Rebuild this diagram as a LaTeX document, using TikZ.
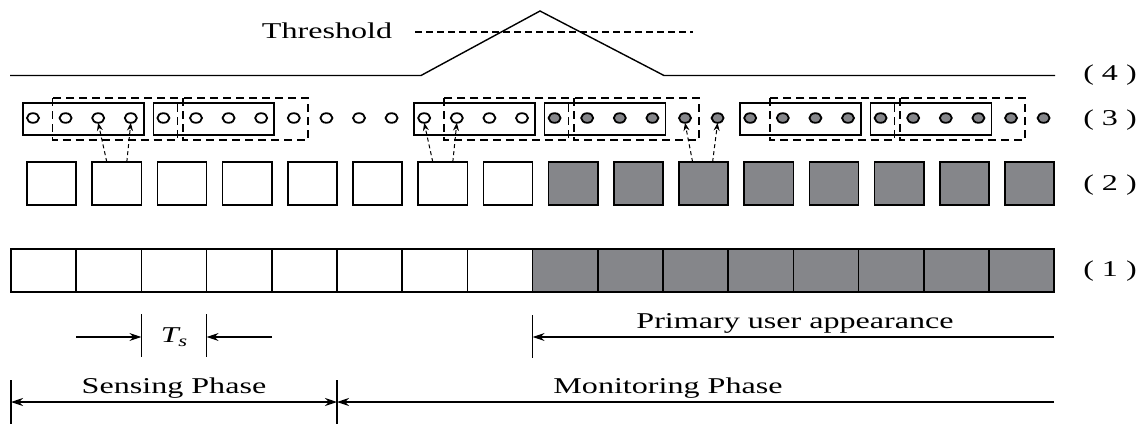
\documentclass[tikz,border=0pt]{standalone}
\usepackage{fontspec}
\setmainfont{Liberation Serif}[FakeStretch=1.42]
\usetikzlibrary{arrows.meta,shapes.geometric,calc}
\definecolor{pugray}{RGB}{133,134,138}
\begin{document}
\begin{tikzpicture}[x=0.5pt,y=-0.5pt, line width=0.8pt,
  slot/.style={draw, rectangle, minimum width=32.6pt, minimum height=21.5pt, inner sep=0pt, outer sep=0pt},
  pbox/.style={draw, rectangle, minimum width=24.6pt, minimum height=21.5pt, inner sep=0pt, outer sep=0pt},
  dot/.style={draw, ellipse, minimum width=6pt, minimum height=4.8pt, inner sep=0pt, outer sep=0pt, line width=0.9pt},
  win/.style={draw, line width=0.75pt},
  dwin/.style={draw, line width=0.75pt, dash pattern=on 4pt off 2.5pt},
  ptr/.style={line width=0.5pt, dash pattern=on 2pt off 1.5pt, -{Stealth[length=4pt,width=3pt]}},
  dim/.style={line width=0.6pt},
  tip/.style={-{Stealth[length=6pt,width=4pt]}},
  lbl/.style={font=\fontsize{11.3pt}{13pt}\selectfont, inner sep=0pt}]
\path[fill=white] (0,0) rectangle (1142,424);
\useasboundingbox (0,0) rectangle (1142,424);

% rows (1) and (2)
\foreach \k in {0,...,15} {
  \pgfmathsetmacro\cx{11+65.2*(\k+0.5)}
  \pgfmathsetmacro\bx{11+65.2*\k+40.6}
  \ifnum\k<8 \def\fc{white}\else\def\fc{pugray}\fi
  \node[slot, fill=\fc] (a\k) at (\cx,270.5) {};
  \node[pbox, fill=\fc] (b\k) at (\bx,183.5) {};
}

% row (3) samples
\foreach \k in {0,...,31} {
  \pgfmathsetmacro\cx{33+32.6*\k}
  \ifnum\k<16 \def\fc{white}\else\def\fc{pugray}\fi
  \node[dot, fill=\fc] (c\k) at (\cx,118) {};
}
\foreach \i/\j in {0/3,4/7,12/15,16/19,22/25,26/29}
  \draw[win] ($(c\i)+(-10,-15)$) rectangle ($(c\j)+(13,17)$);
\foreach \i/\j in {1/4,5/8,13/16,17/20,23/26,27/30}
  \draw[dwin] ($(c\i)+(-13,-20)$) rectangle ($(c\j)+(14,22)$);

% pointers from row (2) to row (3)
\draw[ptr] ($(b1.north)+(-10,0)$) -- (c2.south);
\draw[ptr] ($(b1.north)+(10,0)$) -- (c3.south);
\draw[ptr] ($(b6.north)+(-10,0)$) -- (c12.south);
\draw[ptr] ($(b6.north)+(10,0)$) -- (c13.south);
\draw[ptr] ($(b10.north)+(-11,0)$) -- (c20.south);
\draw[ptr] ($(b10.north)+(9,0)$) -- (c21.south);

% row (4) test statistic
\coordinate (p0) at (10,75.5);
\coordinate (p1) at (421,75.5);
\coordinate (pk) at (540,11);
\coordinate (p2) at (664,75.5);
\coordinate (p3) at (1055,75.5);
\draw[line width=0.7pt] (p0) -- (p1) -- (pk) -- (p2) -- (p3);
\node[lbl, anchor=base] (thr) at (327,38) {Threshold};
\coordinate (t0) at (415,32);
\coordinate (t1) at (693,32);
\draw[line width=0.7pt, dash pattern=on 3.5pt off 2pt] (t0) -- (t1);

% row labels
\node[lbl] (l4) at (1110,75) {( 4 )};
\node[lbl] (l3) at (1110,120) {( 3 )};
\node[lbl] (l2) at (1110,185) {( 2 )};
\node[lbl] (l1) at (1110,271) {( 1 )};

% T_s dimension
\coordinate (tsA1) at (141.4,314);
\coordinate (tsA2) at (141.4,357);
\coordinate (tsB1) at (206.6,314);
\coordinate (tsB2) at (206.6,357);
\coordinate (tsAm) at (141.4,337);
\coordinate (tsBm) at (206.6,337);
\coordinate (tsL) at (76,337);
\coordinate (tsR) at (272,337);
\draw[dim] (tsA1) -- (tsA2);
\draw[dim] (tsB1) -- (tsB2);
\draw[dim,tip] (tsL) -- (tsAm);
\draw[dim,tip] (tsR) -- (tsBm);
\node[lbl] (ts) at (174,337) {\itshape T\kern-0.02em\raisebox{-0.4ex}{\fontsize{8pt}{9pt}\selectfont s}};

% primary user appearance
\coordinate (pu1) at (532.6,315);
\coordinate (pu2) at (532.6,358);
\coordinate (pum) at (532.6,337);
\coordinate (puR) at (1054,337);
\draw[dim] (pu1) -- (pu2);
\draw[dim,tip] (puR) -- (pum);
\node[lbl, anchor=base] (put) at (795,328) {Primary user appearance};

% phases
\coordinate (s1) at (11,380);
\coordinate (s2) at (11,424);
\coordinate (m1) at (337,380);
\coordinate (m2) at (337,424);
\coordinate (sm) at (11,402);
\coordinate (mm) at (337,402);
\coordinate (mR) at (1054,402);
\draw[dim] (s1) -- (s2);
\draw[dim] (m1) -- (m2);
\draw[dim,{Stealth[length=6pt,width=4pt]}-{Stealth[length=6pt,width=4pt]}] (sm) -- (mm);
\draw[dim,tip] (mR) -- (mm);
\node[lbl, anchor=base] (sp) at (174,393) {Sensing Phase};
\node[lbl, anchor=base] (mp) at (668,393) {Monitoring Phase};
\end{tikzpicture}
\end{document}
